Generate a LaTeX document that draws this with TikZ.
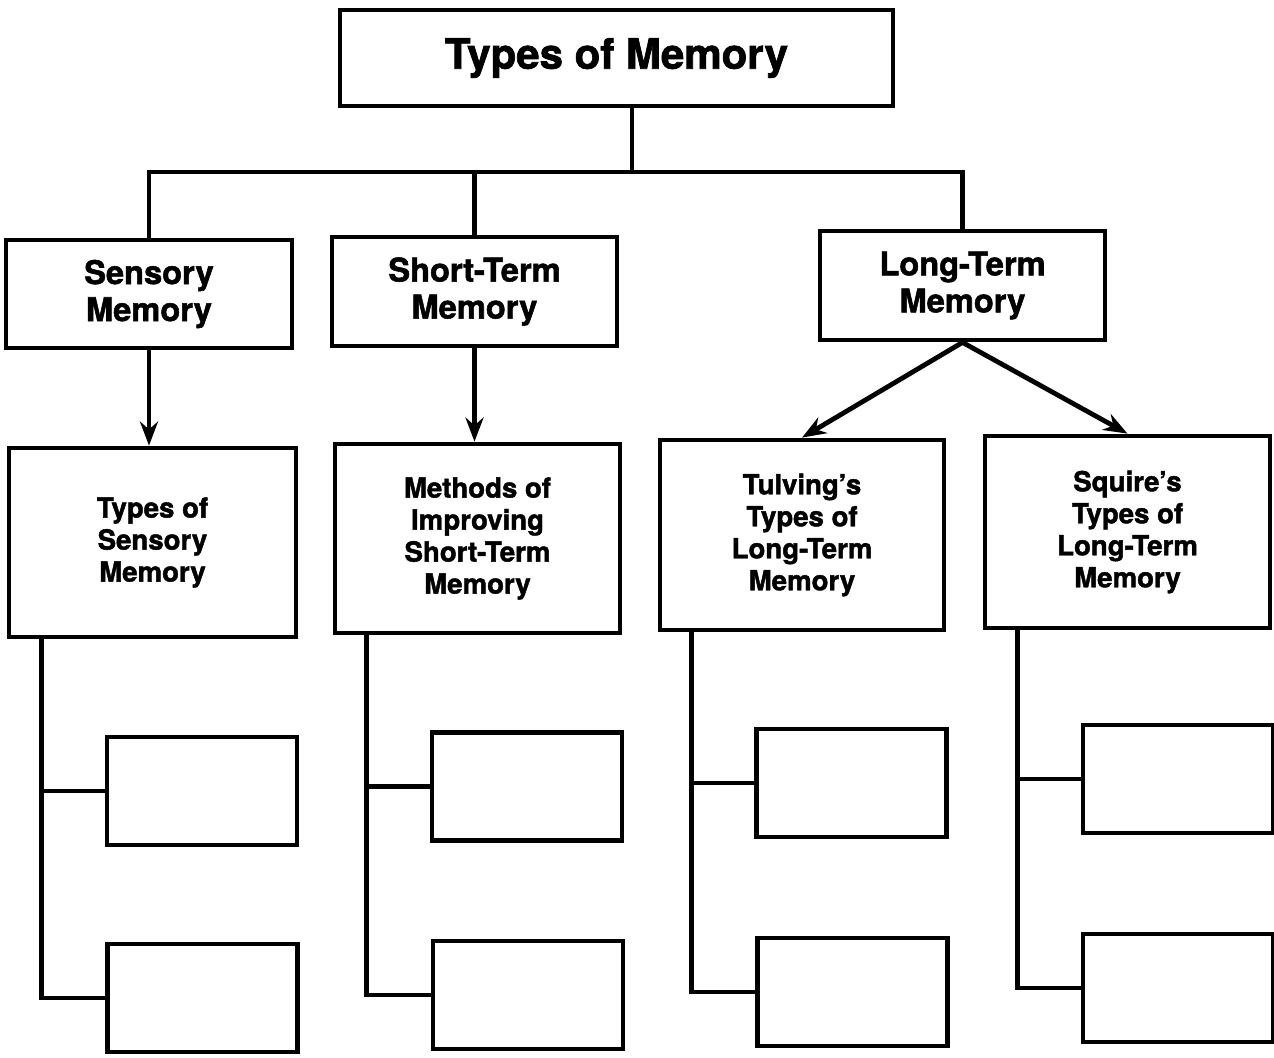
\documentclass[tikz,border=0pt]{standalone}
\usepackage{fontspec}
\setmainfont{TeX Gyre Heros}[BoldFeatures={FakeBold=1.6}]
\usetikzlibrary{arrows.meta}
\begin{document}
\begin{tikzpicture}[x=0.5pt,y=-0.5pt,
  every node/.style={font=\bfseries},
  box/.style={draw, line width=2.4pt, align=center, inner sep=0pt},
  lvlone/.style={box, font=\bfseries\fontsize{16.3}{18.5}\selectfont},
  lvltwo/.style={box, font=\bfseries\fontsize{13.8}{16}\selectfont},
  blank/.style={draw, line width=2.4pt, minimum width=95pt, minimum height=54pt},
  conn/.style={line width=2.4pt},
  arr/.style={line width=2.4pt, -{Stealth[length=12pt,width=9pt]}}]
\useasboundingbox (0,0) rectangle (1274,1057);
\fill[white] (0,0) rectangle (1274,1057);
% top
\node[box, minimum width=276.5pt, minimum height=48pt, font=\bfseries\fontsize{21}{25}\selectfont] (title) at (616.5,58) {Types of Memory};
% level one
\node[lvlone, minimum width=143pt, minimum height=54pt] (sens) at (149,294) {Sensory\\Memory};
\node[lvlone, minimum width=142.5pt, minimum height=54.5pt] (short) at (474.5,291.5) {Short-Term\\Memory};
\node[lvlone, minimum width=142.5pt, minimum height=54.5pt] (long) at (962.5,285.5) {Long-Term\\Memory};
% level two
\node[lvltwo, minimum width=143.5pt, minimum height=94.5pt] (ts) at (152.5,542.5) {Types of\\Sensory\\Memory};
\node[lvltwo, minimum width=142.5pt, minimum height=94.5pt] (meth) at (477.5,538.5) {Methods of\\Improving\\Short-Term\\Memory};
\node[lvltwo, minimum width=142pt, minimum height=95pt] (tul) at (802,535) {Tulving’s\\Types of\\Long-Term\\Memory};
\node[lvltwo, minimum width=142.5pt, minimum height=96pt] (sq) at (1127.5,532) {Squire’s\\Types of\\Long-Term\\Memory};
% blank boxes
\node[blank] (s1) at (202,791) {};
\node[blank] (s2) at (202.5,998) {};
\node[blank] (m1) at (527,786.5) {};
\node[blank] (m2) at (528,995) {};
\node[blank] (t1) at (851.5,783) {};
\node[blank] (t2) at (852.5,992) {};
\node[blank] (q1) at (1178,779) {};
\node[blank] (q2) at (1178,988) {};
% top connectors
\coordinate (j) at (632,172);
\draw[conn] (title.south -| j) -- (j);
\draw[conn] (sens.north) -- (sens.north |- j) -- (long.north |- j) -- (long.north);
\draw[conn] (short.north) -- (short.north |- j);
% arrows
\draw[arr] (sens.south) -- (sens.south |- ts.north);
\draw[arr] (short.south) -- (short.south |- meth.north);
\draw[arr] (long.south) -- (tul.north);
\draw[arr] (long.south) -- (sq.north);
% trees
\coordinate (tsT) at ([xshift=17.5pt]ts.south west);
\coordinate (methT) at ([xshift=17pt]meth.south west);
\coordinate (tulT) at ([xshift=17pt]tul.south west);
\coordinate (sqT) at ([xshift=17.5pt]sq.south west);
\draw[conn] (tsT) |- (s2.west);
\draw[conn] (s1.west) -- (s1.west -| tsT);
\draw[conn] (methT) |- (m2.west);
\draw[conn] (m1.west) -- (m1.west -| methT);
\draw[conn] (tulT) |- (t2.west);
\draw[conn] (t1.west) -- (t1.west -| tulT);
\draw[conn] (sqT) |- (q2.west);
\draw[conn] (q1.west) -- (q1.west -| sqT);
\end{tikzpicture}
\end{document}
